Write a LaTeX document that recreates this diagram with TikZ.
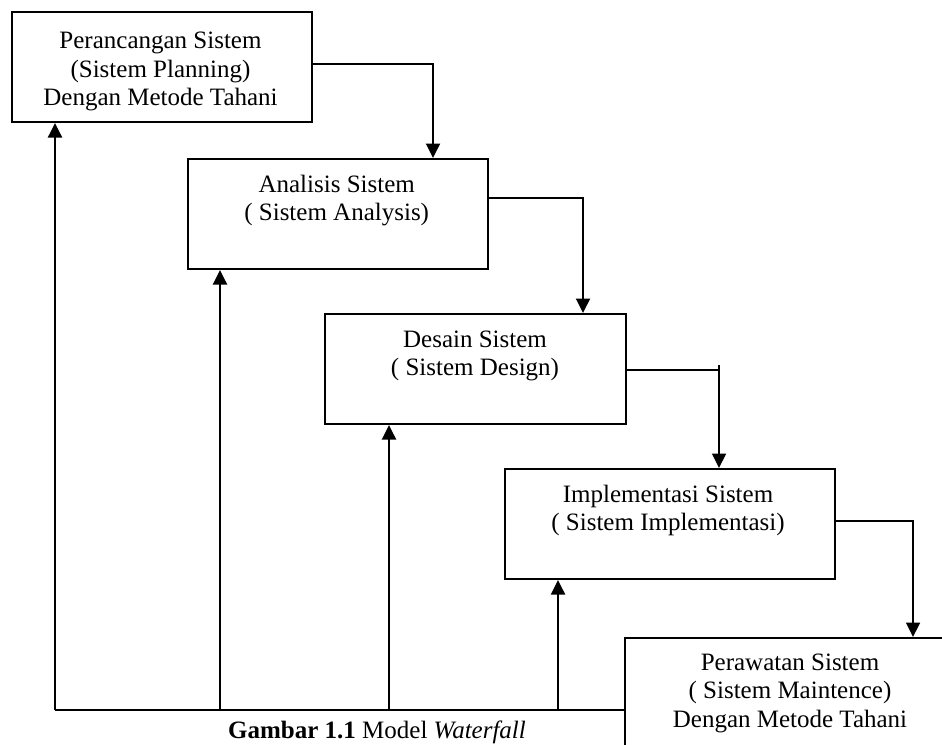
\documentclass[tikz,border=0pt]{standalone}
\usepackage{fontspec}
\setmainfont{Liberation Serif}
\usetikzlibrary{arrows.meta}
\newcommand\mystrut{\rule{0pt}{18pt}}
\begin{document}
\begin{tikzpicture}[x=1pt,y=-1pt,
  box/.style={draw,line width=2pt,rectangle,inner sep=0pt,minimum height=110pt},
  txt/.style={align=center,inner sep=0pt,anchor=north,font=\fontsize{25}{28.5}\selectfont},
  link/.style={line width=1.9pt},
  arr/.style={line width=1.9pt,-{Triangle[width=14pt,length=14.5pt]}}]
\useasboundingbox (0,0) rectangle (942,744);
% boxes
\node[box,minimum width=300pt,minimum height=110.5pt] (b1) at (162,66.75) {};
\node[box,minimum width=300pt] (b2) at (338,214) {};
\node[box,minimum width=301pt] (b3) at (475.5,369) {};
\node[box,minimum width=330pt] (b4) at (670,524) {};
\node[box,minimum width=330pt] (b5) at (790,693) {};
% texts
\node[txt] (t1) at (160.5,30.5) {\mystrut Perancangan Sistem\\(Sistem Planning)\\Dengan Metode Tahani};
\node[txt] (t2) at (336.7,174) {\mystrut Analisis Sistem\\( Sistem Analysis)};
\node[txt] (t3) at (475,329) {\mystrut Desain Sistem\\( Sistem Design)};
\node[txt] (t4) at (668,484) {\mystrut Implementasi Sistem\\( Sistem Implementasi)};
\node[txt] (t5) at (790,652) {\mystrut Perawatan Sistem\\( Sistem Maintence)\\Dengan Metode Tahani};
% caption
\node[anchor=base,inner sep=0pt,font=\fontsize{25}{28.5}\selectfont] (cap) at (377,738.5) {\textbf{Gambar 1.1} Model \textit{Waterfall}};
% forward connectors
\coordinate (k1) at (433,64);
\coordinate (k2) at (583,198);
\coordinate (k3) at (719,370);
\coordinate (k3t) at (719,365);
\coordinate (k4) at (913,521);
\draw[arr] (b1.east |- k1) -- (k1) -- (k1 |- b2.north);
\draw[arr] (b2.east |- k2) -- (k2) -- (k2 |- b3.north);
\draw[link] (b3.east |- k3) -- (k3);
\draw[arr] (k3t) -- (k3t |- b4.north);
\draw[arr] (b4.east |- k4) -- (k4) -- (k4 |- b5.north);
% feedback
\coordinate (f1) at (55,710);
\coordinate (f2) at (220,710);
\coordinate (f3) at (389,710);
\coordinate (f4) at (558,710);
\draw[link] (f1 -| b5.west) -- (f1);
\draw[arr] (f1) -- (f1 |- b1.south);
\draw[arr] (f2) -- (f2 |- b2.south);
\draw[arr] (f3) -- (f3 |- b3.south);
\draw[arr] (f4) -- (f4 |- b4.south);
\end{tikzpicture}
\end{document}
